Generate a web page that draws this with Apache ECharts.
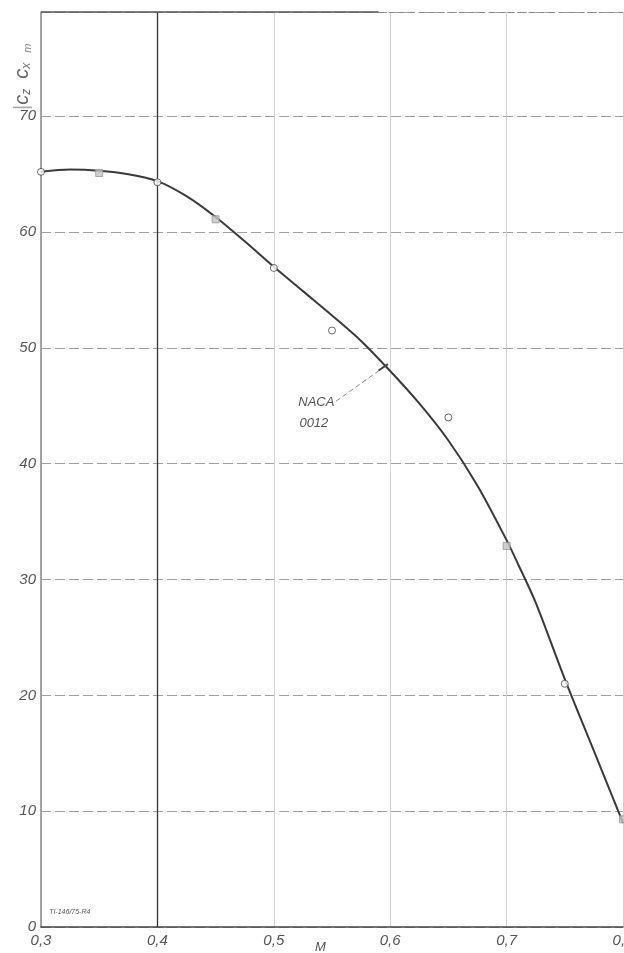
<!DOCTYPE html>
<html>
<head>
<meta charset="utf-8">
<script src="https://cdn.jsdelivr.net/npm/echarts@6/dist/echarts.min.js"></script>
<style>
  html, body { margin: 0; padding: 0; background: #fff; width: 100%; height: 100%; overflow: hidden; }
  #chart { position: absolute; left: 0; top: 0; width: 624px; height: 953px; }
</style>
</head>
<body>
<div id="chart"></div>
<script>
// Smoothed curve for the NACA 0012 profile: Mach number vs. ratio
const curveM   = [0.30, 0.325, 0.35, 0.375, 0.40, 0.425, 0.45, 0.475, 0.50, 0.525, 0.55, 0.575, 0.60, 0.625, 0.65, 0.675, 0.70, 0.71, 0.725, 0.75, 0.775, 0.80];
const curveVal = [65.2, 65.4, 65.3, 65.0, 64.4, 63.1, 61.3, 59.2, 57.0, 54.9, 52.8, 50.6, 48.0, 45.2, 42.0, 38.1, 33.4, 31.3, 28.0, 21.4, 15.2, 9.0];

// Measured points, open circles
const circleM   = [0.30, 0.40, 0.50, 0.55, 0.65, 0.75];
const circleVal = [65.2, 64.3, 56.9, 51.5, 44.0, 21.0];

// Measured points, squares
const squareM   = [0.35, 0.45, 0.70, 0.80];
const squareVal = [65.1, 61.1, 32.9, 9.3];

// Axis ticks
const xTicks = [0.3, 0.4, 0.5, 0.6, 0.7, 0.8];
const yTicks = [0, 10, 20, 30, 40, 50, 60, 70];

// Profile annotation: leader line and text anchors (data coordinates)
const leaderM   = [0.5535, 0.594];
const leaderVal = [45.4, 48.3];
const tickM     = [0.590, 0.598];
const tickVal   = [48.05, 48.6];
const profileText = ['NACA', '0012'];
const textM   = [0.521, 0.522];
const textVal = [45.3, 43.5];

// Axis quantity name placed under the M axis
const axisNameM = 0.54;

const pairs = (a, b) => a.map((v, i) => [v, b[i]]);

const labelFont = {
  color: '#555',
  fontStyle: 'italic',
  fontFamily: 'Liberation Sans, DejaVu Sans, sans-serif',
  fontSize: 15
};

const chart = echarts.init(document.getElementById('chart'), null, { renderer: 'canvas', width: 624, height: 953 });

const option = {
  backgroundColor: '#fff',
  animation: false,
  grid: { left: 41, right: 1, top: 12, bottom: 26, containLabel: false, outerBoundsMode: 'none' },
  xAxis: {
    type: 'value',
    min: 0.3,
    max: 0.8,
    interval: 0.1,
    axisLine: { show: true, lineStyle: { color: '#444', width: 1.5 } },
    axisTick: { show: false },
    axisLabel: Object.assign({}, labelFont, {
      margin: 6,
      hideOverlap: false,
      formatter: v => xTicks.some(t => Math.abs(t - v) < 1e-6) ? v.toFixed(1).replace('.', ',') : ''
    }),
    splitLine: { show: true, lineStyle: { color: '#d2d2d2', width: 1 } }
  },
  yAxis: {
    type: 'value',
    min: 0,
    max: 79,
    interval: 10,
    axisLine: { show: true, lineStyle: { color: '#888', width: 1.5 } },
    axisTick: { show: false },
    axisLabel: Object.assign({}, labelFont, {
      margin: 5,
      formatter: v => yTicks.includes(v) ? String(v) : ''
    }),
    splitLine: { show: true, lineStyle: { color: '#a0a0a0', width: 1, type: [10, 4] } }
  },
  series: [
    {
      // dark vertical reference at M = 0.4 and frame top
      type: 'line',
      data: [],
      markLine: {
        silent: true,
        symbol: 'none',
        label: { show: false },
        data: [
          { xAxis: 0.4, lineStyle: { color: '#333', width: 1.3, type: 'solid' } },
          [{ coord: [0.3, 79], lineStyle: { color: '#555', width: 1.5, type: 'solid' } }, { coord: [0.59, 79] }],
          [{ coord: [0.59, 79], lineStyle: { color: '#888', width: 1, type: [6, 4] } }, { coord: [0.8, 79] }]
        ]
      }
    },
    {
      name: 'NACA 0012',
      type: 'line',
      data: pairs(curveM, curveVal),
      smooth: 0.3,
      showSymbol: false,
      lineStyle: { color: '#3a3a3a', width: 2 },
      z: 3
    },
    {
      type: 'line',
      data: pairs(leaderM, leaderVal),
      showSymbol: false,
      lineStyle: { color: '#888', width: 1, type: [5, 3] },
      z: 3
    },
    {
      type: 'line',
      data: pairs(tickM, tickVal),
      showSymbol: false,
      lineStyle: { color: '#444', width: 2 },
      z: 4
    },
    {
      type: 'scatter',
      data: pairs(circleM, circleVal),
      symbol: 'circle',
      symbolSize: 7,
      itemStyle: { color: '#fff', borderColor: '#444', borderWidth: 1 },
      z: 5
    },
    {
      type: 'scatter',
      data: pairs(squareM, squareVal),
      symbol: 'rect',
      symbolSize: 7,
      itemStyle: { color: '#c4c4c4', borderColor: '#999', borderWidth: 1 },
      z: 5
    }
  ]
};

chart.setOption(option);

// Text annotations placed from data coordinates
const graphics = [];
profileText.forEach((t, i) => {
  const p = chart.convertToPixel({ gridIndex: 0 }, [textM[i], textVal[i]]);
  graphics.push({
    type: 'text',
    x: p[0],
    y: p[1],
    style: {
      text: t,
      fill: '#555',
      font: 'italic 13px "Liberation Sans", "DejaVu Sans", sans-serif',
      textVerticalAlign: 'middle',
      textAlign: 'left'
    },
    z: 10
  });
});

// M axis name
const mPos = chart.convertToPixel({ gridIndex: 0 }, [axisNameM, 0]);
graphics.push({
  type: 'text',
  x: mPos[0],
  y: mPos[1] + 20,
  style: {
    text: 'M',
    fill: '#555',
    font: 'italic 13px "Liberation Sans", "DejaVu Sans", sans-serif',
    textVerticalAlign: 'middle',
    textAlign: 'center'
  },
  z: 10
});

// Drawing number in the lower-left corner
const dn = chart.convertToPixel({ gridIndex: 0 }, [0.307, 1.3]);
graphics.push({
  type: 'text',
  x: dn[0],
  y: dn[1],
  style: {
    text: 'TI-146/75-R4',
    fill: '#555',
    font: 'italic 7px "Liberation Sans", sans-serif',
    textVerticalAlign: 'middle'
  },
  z: 10
});

// Rotated y-axis quantity label
graphics.push({
  type: 'text',
  x: 22,
  y: 110,
  rotation: Math.PI / 2,
  style: {
    text: '{b||}{c|c}{s|z}   {c|c}{s|x}{m|m}',
    rich: {
      b: { fill: '#aaa', fontSize: 20, fontFamily: 'Liberation Sans' },
      c: { fill: '#666', fontSize: 20, fontStyle: 'italic', fontFamily: 'Liberation Sans' },
      s: { fill: '#666', fontSize: 12, fontStyle: 'italic', fontFamily: 'Liberation Sans', padding: [9, 0, 0, 0] },
      m: { fill: '#888', fontSize: 11, fontStyle: 'italic', fontFamily: 'Liberation Sans', padding: [11, 0, 0, 10] }
    },
    textVerticalAlign: 'middle',
    textAlign: 'left'
  },
  z: 10
});

chart.setOption({ graphic: graphics });
</script>
</body>
</html>
